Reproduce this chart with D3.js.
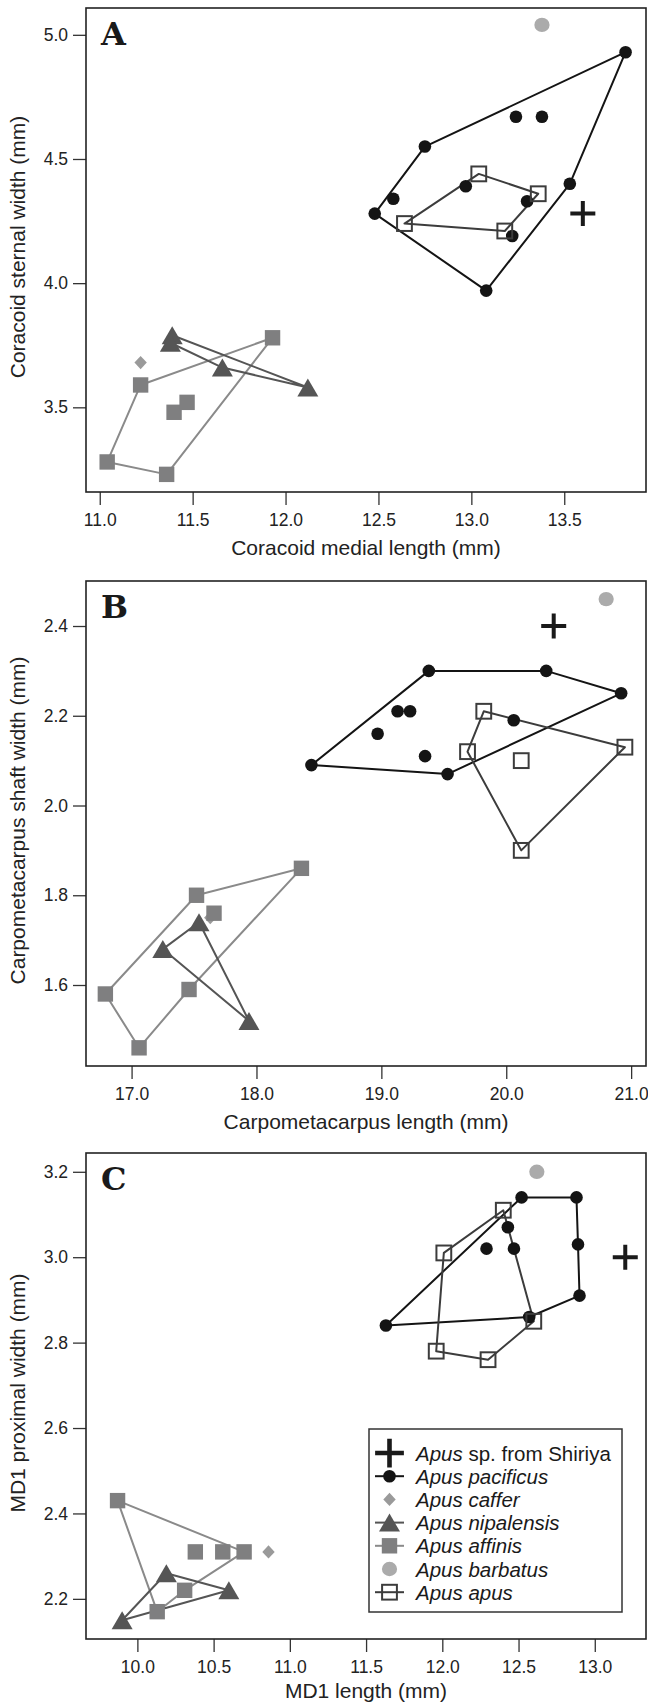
<!DOCTYPE html>
<html><head><meta charset="utf-8">
<script src="https://cdn.jsdelivr.net/npm/d3@7"></script>
<style>body{margin:0;background:#fff}svg{display:block}</style>
</head><body>
<svg id="chart" width="648" height="1705"></svg>
<script>
// ---------- DATA ----------
// Panel A: Coracoid medial length (x) vs sternal width (y)
const A_shiriya = [[13.60, 4.28]];
const A_pacificus_hull = [[12.48, 4.28], [12.75, 4.55], [13.83, 4.93], [13.53, 4.40], [13.08, 3.97]];
const A_pacificus_inner = [[13.24, 4.67], [13.38, 4.67], [12.58, 4.34], [12.97, 4.39], [13.30, 4.33], [13.22, 4.19]];
const A_caffer = [[11.22, 3.68]];
const A_nipalensis_hull = [[11.39, 3.79], [12.12, 3.58], [11.66, 3.66], [11.38, 3.76]];
const A_affinis_hull = [[11.22, 3.59], [11.93, 3.78], [11.36, 3.23], [11.04, 3.28]];
const A_affinis_inner = [[11.40, 3.48], [11.47, 3.52]];
const A_barbatus = [[13.38, 5.04]];
const A_apus_hull = [[12.64, 4.24], [13.04, 4.44], [13.36, 4.36], [13.18, 4.21]];
const A_xTicks = [11.0, 11.5, 12.0, 12.5, 13.0, 13.5];
const A_yTicks = [3.5, 4.0, 4.5, 5.0];
const A_xDomain = [10.926, 13.940];
const A_yDomain = [3.159, 5.108];

// Panel B: Carpometacarpus length (x) vs shaft width (y)
const B_shiriya = [[20.38, 2.40]];
const B_pacificus_hull = [[18.44, 2.09], [19.38, 2.30], [20.32, 2.30], [20.92, 2.25], [19.53, 2.07]];
const B_pacificus_inner = [[19.13, 2.21], [19.23, 2.21], [18.97, 2.16], [19.35, 2.11], [20.06, 2.19]];
const B_caffer = [[17.63, 1.75]];
const B_nipalensis_hull = [[17.54, 1.74], [17.94, 1.52], [17.25, 1.68]];
const B_affinis_hull = [[17.52, 1.80], [18.36, 1.86], [17.46, 1.59], [17.06, 1.46], [16.79, 1.58]];
const B_affinis_inner = [[17.66, 1.76]];
const B_barbatus = [[20.80, 2.46]];
const B_apus_hull = [[19.82, 2.21], [20.95, 2.13], [20.12, 1.90], [19.69, 2.12]];
const B_apus_inner = [[20.12, 2.10]];
const B_xTicks = [17.0, 18.0, 19.0, 20.0, 21.0];
const B_yTicks = [1.6, 1.8, 2.0, 2.2, 2.4];
const B_xDomain = [16.635, 21.119];
const B_yDomain = [1.4195, 2.5003];

// Panel C: MD1 length (x) vs MD1 proximal width (y)
const C_shiriya = [[13.20, 3.00]];
const C_pacificus_hull = [[11.63, 2.84], [12.52, 3.14], [12.88, 3.14], [12.89, 3.03], [12.90, 2.91], [12.57, 2.86]];
const C_pacificus_inner = [[12.29, 3.02], [12.47, 3.02], [12.43, 3.07]];
const C_caffer = [[10.86, 2.31]];
const C_nipalensis_hull = [[10.19, 2.26], [10.60, 2.22], [9.90, 2.15]];
const C_affinis_hull = [[9.87, 2.43], [10.70, 2.31], [10.31, 2.22], [10.13, 2.17]];
const C_affinis_inner = [[10.38, 2.31], [10.56, 2.31]];
const C_barbatus = [[12.62, 3.20]];
const C_apus_hull = [[12.40, 3.11], [12.60, 2.85], [12.30, 2.76], [11.96, 2.78], [12.01, 3.01]];
const C_xTicks = [10.0, 10.5, 11.0, 11.5, 12.0, 12.5, 13.0];
const C_yTicks = [2.2, 2.4, 2.6, 2.8, 3.0, 3.2];
const C_xDomain = [9.663, 13.336];
const C_yDomain = [2.106, 3.244];

const legendNames = ["Apus sp. from Shiriya", "Apus pacificus", "Apus caffer", "Apus nipalensis",
  "Apus affinis", "Apus barbatus", "Apus apus"];
const legendKeys = ["shiriya", "pacificus", "caffer", "nipalensis", "affinis", "barbatus", "apus"];

// ---------- STYLE ----------
const STY = {
  shiriya: {color: "#1a1a1a", line: false},
  pacificus: {color: "#141414", line: true},
  caffer: {color: "#9a9a9a", line: false},
  nipalensis: {color: "#555555", line: true},
  affinis: {color: "#7f7f80", lineColor: "#8a8a8a", line: true},
  barbatus: {color: "#ababab", line: false},
  apus: {color: "#3c3c3c", line: true}
};
const SANS = "'Liberation Sans', Arial, Helvetica, sans-serif";

const svg = d3.select("#chart");

function drawMarker(g, key, cx, cy, s = 1) {
  const c = STY[key].color;
  if (key === "shiriya") {
    const h = 12.5 * s;
    g.append("path").attr("d", `M${cx - h},${cy}H${cx + h}M${cx},${cy - h}V${cy + h}`)
      .attr("stroke", c).attr("stroke-width", 4 * s).attr("fill", "none");
  } else if (key === "pacificus") {
    g.append("circle").attr("cx", cx).attr("cy", cy).attr("r", 6.3 * s).attr("fill", c);
  } else if (key === "caffer") {
    const w = 6.2 * s, h = 6.6 * s;
    g.append("path").attr("d", `M${cx},${cy - h}L${cx + w},${cy}L${cx},${cy + h}L${cx - w},${cy}Z`).attr("fill", c);
  } else if (key === "nipalensis") {
    const w = 10.5 * s, h = 9 * s;
    g.append("path").attr("d", `M${cx},${cy - h}L${cx + w},${cy + h}L${cx - w},${cy + h}Z`).attr("fill", c);
  } else if (key === "affinis") {
    const h = 7.7 * s;
    g.append("rect").attr("x", cx - h).attr("y", cy - h).attr("width", 2 * h).attr("height", 2 * h).attr("fill", c);
  } else if (key === "barbatus") {
    g.append("ellipse").attr("cx", cx).attr("cy", cy).attr("rx", 7.6 * s).attr("ry", 7.2 * s).attr("fill", c);
  } else if (key === "apus") {
    const h = 7.4 * s;
    g.append("rect").attr("x", cx - h).attr("y", cy - h).attr("width", 2 * h).attr("height", 2 * h)
      .attr("fill", "none").attr("stroke", c).attr("stroke-width", 2);
  }
}

function drawPanel(cfg) {
  const {frame, xDomain, yDomain, xTicks, yTicks, xTitle, yTitle, letter, series} = cfg;
  const x = d3.scaleLinear().domain(xDomain).range([frame.left, frame.right]);
  const y = d3.scaleLinear().domain(yDomain).range([frame.bottom, frame.top]);
  const g = svg.append("g");

  // axes
  const xa = g.append("g").attr("transform", `translate(0,${frame.bottom})`)
    .call(d3.axisBottom(x).tickValues(xTicks).tickFormat(d3.format(".1f")).tickSize(13).tickPadding(9));
  const ya = g.append("g").attr("transform", `translate(${frame.left},0)`)
    .call(d3.axisLeft(y).tickValues(yTicks).tickFormat(d3.format(".1f")).tickSize(13).tickPadding(5));
  [xa, ya].forEach(a => {
    a.select(".domain").remove();
    a.selectAll(".tick line").attr("stroke", "#333").attr("stroke-width", 1.3);
    a.selectAll(".tick text").attr("fill", "#222").style("font-family", SANS).style("font-size", "17.5px");
  });

  // frame
  g.append("rect").attr("x", frame.left).attr("y", frame.top)
    .attr("width", frame.right - frame.left).attr("height", frame.bottom - frame.top)
    .attr("fill", "none").attr("stroke", "#222").attr("stroke-width", 1.6);

  // titles
  g.append("text").attr("x", (frame.left + frame.right) / 2).attr("y", frame.bottom + frame.titleGap)
    .attr("text-anchor", "middle").attr("fill", "#222")
    .style("font-family", SANS).style("font-size", "21px").text(xTitle);
  g.append("text")
    .attr("transform", `translate(25,${(frame.top + frame.bottom) / 2 - 3}) rotate(-90)`)
    .attr("text-anchor", "middle").attr("fill", "#222")
    .style("font-family", SANS).style("font-size", "21px").text(yTitle);
  g.append("text").attr("x", frame.left + 15).attr("y", frame.top + 37)
    .attr("fill", "#1a1a1a").style("font-family", "'DejaVu Serif', serif")
    .style("font-weight", "bold").style("font-size", "32px").text(letter);

  // hull lines
  const line = d3.line().x(d => x(d[0])).y(d => y(d[1])).curve(d3.curveLinearClosed);
  series.forEach(s => {
    if (s.hull && s.hull.length > 1) {
      const st = STY[s.key];
      g.append("path").attr("d", line(s.hull)).attr("fill", "none")
        .attr("stroke", st.lineColor || st.color).attr("stroke-width", 2).attr("stroke-linejoin", "round");
    }
  });
  // markers
  series.forEach(s => {
    const pts = (s.hull || []).concat(s.inner || []);
    pts.forEach(p => drawMarker(g, s.key, x(p[0]), y(p[1])));
  });
}

drawPanel({
  frame: {left: 86, right: 646, top: 8, bottom: 492, titleGap: 63},
  xDomain: A_xDomain, yDomain: A_yDomain, xTicks: A_xTicks, yTicks: A_yTicks,
  xTitle: "Coracoid medial length (mm)", yTitle: "Coracoid sternal width (mm)", letter: "A",
  series: [
    {key: "caffer", inner: A_caffer},
    {key: "affinis", hull: A_affinis_hull, inner: A_affinis_inner},
    {key: "nipalensis", hull: A_nipalensis_hull},
    {key: "pacificus", hull: A_pacificus_hull, inner: A_pacificus_inner},
    {key: "barbatus", inner: A_barbatus},
    {key: "apus", hull: A_apus_hull},
    {key: "shiriya", inner: A_shiriya}
  ]
});
drawPanel({
  frame: {left: 86, right: 646, top: 581, bottom: 1066, titleGap: 63},
  xDomain: B_xDomain, yDomain: B_yDomain, xTicks: B_xTicks, yTicks: B_yTicks,
  xTitle: "Carpometacarpus length (mm)", yTitle: "Carpometacarpus shaft width (mm)", letter: "B",
  series: [
    {key: "caffer", inner: B_caffer},
    {key: "affinis", hull: B_affinis_hull, inner: B_affinis_inner},
    {key: "nipalensis", hull: B_nipalensis_hull},
    {key: "pacificus", hull: B_pacificus_hull, inner: B_pacificus_inner},
    {key: "barbatus", inner: B_barbatus},
    {key: "apus", hull: B_apus_hull, inner: B_apus_inner},
    {key: "shiriya", inner: B_shiriya}
  ]
});
drawPanel({
  frame: {left: 86, right: 646, top: 1153, bottom: 1639, titleGap: 59},
  xDomain: C_xDomain, yDomain: C_yDomain, xTicks: C_xTicks, yTicks: C_yTicks,
  xTitle: "MD1 length (mm)", yTitle: "MD1 proximal width (mm)", letter: "C",
  series: [
    {key: "caffer", inner: C_caffer},
    {key: "affinis", hull: C_affinis_hull, inner: C_affinis_inner},
    {key: "nipalensis", hull: C_nipalensis_hull},
    {key: "pacificus", hull: C_pacificus_hull, inner: C_pacificus_inner},
    {key: "barbatus", inner: C_barbatus},
    {key: "apus", hull: C_apus_hull},
    {key: "shiriya", inner: C_shiriya}
  ]
});

// ---------- LEGEND ----------
const lg = svg.append("g");
lg.append("rect").attr("x", 369).attr("y", 1429).attr("width", 253).attr("height", 183)
  .attr("fill", "#fff").attr("stroke", "#333").attr("stroke-width", 1.5);
legendKeys.forEach((k, i) => {
  const cy = 1453 + i * 23.2;
  const st = STY[k];
  if (st.line) {
    lg.append("line").attr("x1", 375).attr("x2", 404).attr("y1", cy).attr("y2", cy)
      .attr("stroke", st.lineColor || st.color).attr("stroke-width", 2);
  }
  drawMarker(lg, k, 389.5, cy, k === "shiriya" ? 1.15 : 1);
  const t = lg.append("text").attr("x", 416).attr("y", cy + 7.5).attr("fill", "#1a1a1a")
    .style("font-family", SANS).style("font-size", "20.5px");
  const name = legendNames[i];
  if (name.indexOf(" sp. ") > 0) {
    t.append("tspan").style("font-style", "italic").text("Apus");
    t.append("tspan").text(" sp. from Shiriya");
  } else {
    t.style("font-style", "italic").text(name);
  }
});
</script>
</body></html>
